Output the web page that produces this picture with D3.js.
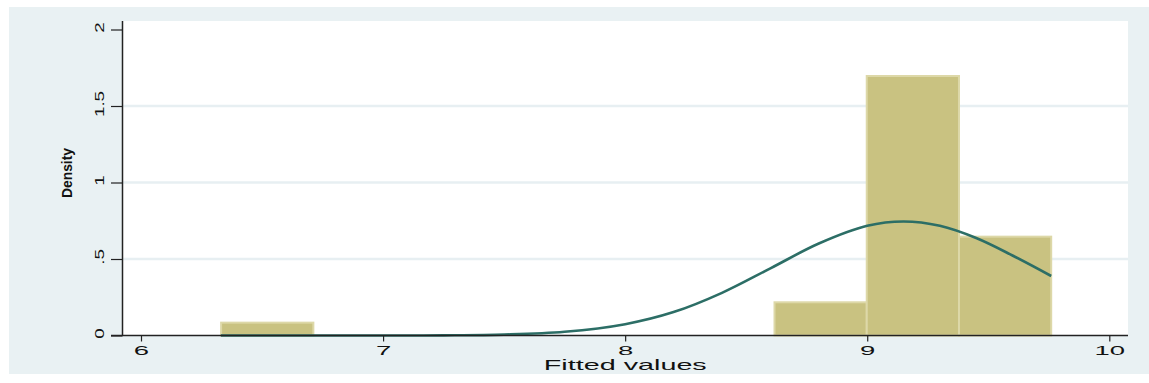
<!DOCTYPE html>
<html>
<head>
<meta charset="utf-8">
<script src="https://cdn.jsdelivr.net/npm/d3@7"></script>
<style>
  html, body { margin: 0; padding: 0; background: #ffffff; }
  svg { display: block; }
  text { font-family: "Liberation Sans", Arial, sans-serif; fill: #111; }
</style>
</head>
<body>
<script>
// ---- data ----
const binLeft  = [6.331, 8.617, 8.998, 9.379];
const binRight = [6.712, 8.998, 9.379, 9.760];
const binDensity = [0.084, 0.217, 1.696, 0.646];

const curveX = [6.33, 6.60, 6.80, 7.00, 7.25, 7.50, 7.75, 8.00, 8.20, 8.40, 8.60, 8.80, 9.00, 9.15, 9.30, 9.45, 9.60, 9.76];
const curveY = [0.000, 0.000, 0.000, 0.000, 0.001, 0.006, 0.024, 0.074, 0.153, 0.279, 0.439, 0.601, 0.717, 0.745, 0.717, 0.637, 0.523, 0.389];

const xTicks = [6, 7, 8, 9, 10];
const xTickLabels = ["6", "7", "8", "9", "10"];
const yTicks = [0, 0.5, 1, 1.5, 2];
const yTickLabels = ["0", ".5", "1", "1.5", "2"];
const gridTicks = [0.5, 1, 1.5];

const xTitle = "Fitted values";
const yTitle = "Density";

// ---- layout ----
const W = 1149, H = 383;
const plot = { left: 122.5, right: 1128, top: 21, bottom: 335.5 };

const svg = d3.select("body").append("svg").attr("width", W).attr("height", H);

// outer background
svg.append("rect").attr("x", 9).attr("y", 7).attr("width", W - 9).attr("height", 367).attr("fill", "#e9f1f3");
// plot region
svg.append("rect").attr("x", plot.left).attr("y", plot.top)
  .attr("width", plot.right - plot.left).attr("height", plot.bottom - plot.top).attr("fill", "#ffffff");

const x = d3.scaleLinear().domain([6, 10]).range([141, 1109.3]);
const y = d3.scaleLinear().domain([0, 2]).range([335.5, 29.5]);

// gridlines
svg.append("g").selectAll("line").data(gridTicks).join("line")
  .attr("x1", plot.left).attr("x2", plot.right)
  .attr("y1", d => y(d)).attr("y2", d => y(d))
  .attr("stroke", "#e7eff2").attr("stroke-width", 2.5);

// bars
const bars = binLeft.map((l, i) => ({ l, r: binRight[i], d: binDensity[i] }));
svg.append("g").selectAll("rect").data(bars).join("rect")
  .attr("x", d => x(d.l)).attr("width", d => x(d.r) - x(d.l))
  .attr("y", d => y(d.d)).attr("height", d => y(0) - y(d.d))
  .attr("fill", "#c9c281").attr("stroke", "#ddd8a8").attr("stroke-width", 2);

// normal density curve
const pts = curveX.map((v, i) => [v, curveY[i]]);
svg.append("path").datum(pts)
  .attr("d", d3.line().x(d => x(d[0])).y(d => y(d[1])).curve(d3.curveCatmullRom))
  .attr("fill", "none").attr("stroke", "#2c6e66").attr("stroke-width", 2.6);

// axes
const xAxis = d3.axisBottom(x).tickValues(xTicks).tickFormat((d, i) => xTickLabels[i])
  .tickSize(6).tickSizeOuter(0);
const gx = svg.append("g").attr("transform", `translate(0,${plot.bottom})`).call(xAxis);
gx.select(".domain").remove();
gx.selectAll(".tick line").attr("stroke", "#222").attr("stroke-width", 1.2);
gx.selectAll(".tick text")
  .attr("y", null).attr("dy", null)
  .attr("transform", "translate(0,19.8) scale(2.2,1)")
  .attr("text-anchor", "middle")
  .style("font-size", "12.5px").style("font-family", "Liberation Sans, Arial, sans-serif").attr("fill", "#111");

const yAxis = d3.axisLeft(y).tickValues(yTicks).tickFormat((d, i) => yTickLabels[i])
  .tickSize(11.5).tickSizeOuter(0);
const gy = svg.append("g").attr("transform", `translate(${plot.left},0)`).call(yAxis);
gy.select(".domain").remove();
gy.selectAll(".tick line").attr("stroke", "#222").attr("stroke-width", 1.2);
gy.selectAll(".tick text")
  .attr("x", null).attr("dy", null)
  .attr("transform", "translate(-19,-2.5) rotate(-90) scale(1.5,1)")
  .attr("text-anchor", "middle")
  .style("font-size", "12.5px").style("font-family", "Liberation Sans, Arial, sans-serif").attr("fill", "#111");

// axis lines
svg.append("line").attr("x1", plot.left).attr("x2", plot.left).attr("y1", plot.top).attr("y2", plot.bottom)
  .attr("stroke", "#222").attr("stroke-width", 1.5);
svg.append("line").attr("x1", plot.left - 11.5).attr("x2", plot.right).attr("y1", plot.bottom).attr("y2", plot.bottom)
  .attr("stroke", "#222").attr("stroke-width", 1.5);

// titles
svg.append("text")
  .attr("transform", `translate(${(plot.left + plot.right) / 2},370.3) scale(2.13,1.03)`)
  .attr("text-anchor", "middle").style("font-size", "13.5px").text(xTitle);

svg.append("text")
  .attr("transform", "translate(72,173) rotate(-90)")
  .attr("text-anchor", "middle").style("font-size", "15px").style("font-weight", "bold")
  .attr("textLength", 50).attr("lengthAdjust", "spacingAndGlyphs")
  .text(yTitle);
</script>
</body>
</html>
